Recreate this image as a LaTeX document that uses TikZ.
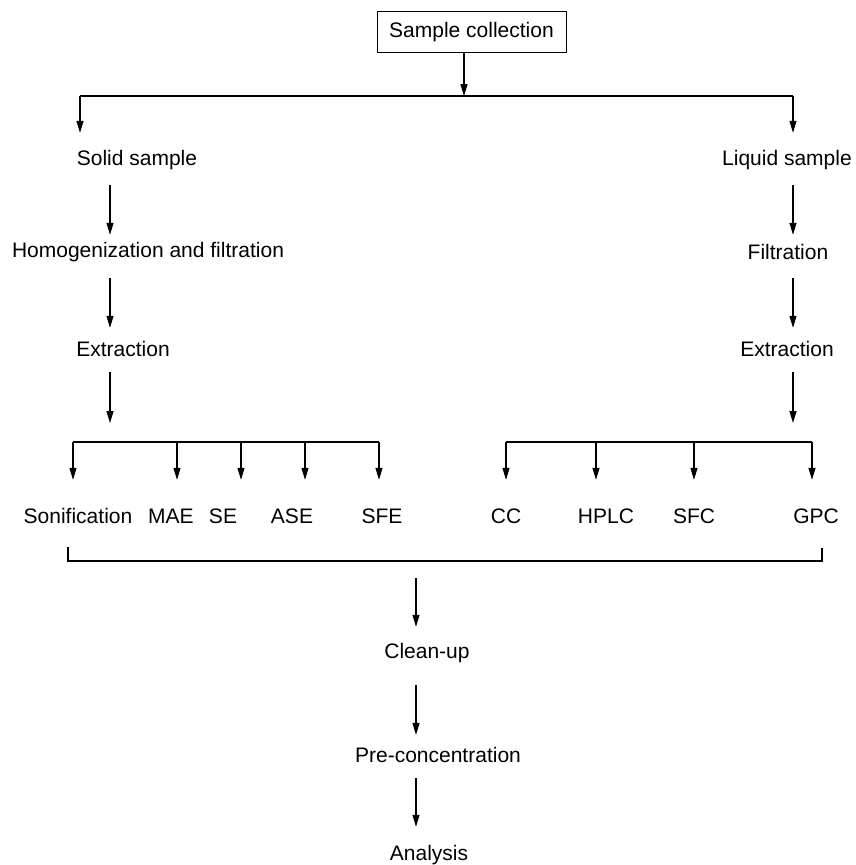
\documentclass[tikz,border=0pt]{standalone}
\usepackage{fontspec}
\setmainfont{Liberation Sans}
\usetikzlibrary{arrows.meta}
\begin{document}
\begin{tikzpicture}[x=1pt,y=-1pt,
  lbl/.style={inner sep=0pt,text height=15pt,text depth=4pt,font=\fontsize{21}{25}\selectfont},
  boxed/.style={lbl,draw,line width=1pt,minimum width=189pt,minimum height=41pt},
  ln/.style={line width=1.2pt},
  arr/.style={ln,-{Triangle[length=12pt,width=7pt]}}]
\useasboundingbox (0,0) rectangle (855,865);
% nodes
\node[boxed] (sc) at (471.5,31.5) {Sample collection};
\node[lbl] (solid) at (137,160) {Solid sample};
\node[lbl] (homog) at (148,252) {Homogenization and filtration};
\node[lbl] (extrL) at (123,351) {Extraction};
\node[lbl] (liquid) at (787,160) {Liquid sample};
\node[lbl] (filt) at (788,254) {Filtration};
\node[lbl] (extrR) at (787,351) {Extraction};
\node[lbl] (son) at (78,518) {Sonification};
\node[lbl] (mae) at (171,518) {MAE};
\node[lbl] (se) at (223,518) {SE};
\node[lbl] (ase) at (292,518) {ASE};
\node[lbl] (sfe) at (382,518) {SFE};
\node[lbl] (cc) at (506,518) {CC};
\node[lbl] (hplc) at (606,518) {HPLC};
\node[lbl] (sfc) at (694,518) {SFC};
\node[lbl] (gpc) at (816,518) {GPC};
\node[lbl] (clean) at (427,653) {Clean-up};
\node[lbl] (pre) at (438,757) {Pre-concentration};
\node[lbl] (ana) at (429,855) {Analysis};
% coordinates
\coordinate (top) at (464,96);
\coordinate (tl) at (80,96);
\coordinate (tr) at (793,96);
\coordinate (ax) at (110,0);
\coordinate (bx) at (793,0);
\coordinate (lend) at (110,423);
\coordinate (rend) at (793,423);
\coordinate (lbl0) at (73,442);
\coordinate (lbr0) at (379,442);
\coordinate (rbl0) at (506,442);
\coordinate (rbr0) at (812,442);
\coordinate (d2) at (177,442);
\coordinate (d3) at (241,442);
\coordinate (d4) at (305,442);
\coordinate (e2) at (596,442);
\coordinate (e3) at (694,442);
\coordinate (bl0) at (68,547);
\coordinate (bl) at (68,561);
\coordinate (br) at (822,561);
\coordinate (br0) at (822,548);
\coordinate (bm) at (416,578);
\coordinate (cx) at (416,0);
% top split
\draw[arr] (sc.south -| top) -- (top);
\draw[ln] (tl) -- (tr);
\draw[arr,shorten >=17.5pt] (tl) -- (solid.north -| tl);
\draw[arr,shorten >=17.5pt] (tr) -- (liquid.north -| tr);
% left column
\draw[arr,shorten <=15.5pt,shorten >=7.5pt] (solid.south -| ax) -- (homog.north -| ax);
\draw[arr,shorten <=16.5pt,shorten >=13.5pt] (homog.south -| ax) -- (extrL.north -| ax);
\draw[arr,shorten <=11.5pt] (extrL.south -| ax) -- (lend);
% right column
\draw[arr,shorten <=15.5pt,shorten >=9.5pt] (liquid.south -| bx) -- (filt.north -| bx);
\draw[arr,shorten <=14.5pt,shorten >=13.5pt] (filt.south -| bx) -- (extrR.north -| bx);
\draw[arr,shorten <=11.5pt] (extrR.south -| bx) -- (rend);
% left bracket
\draw[ln] (lbl0) -- (lbr0);
\draw[arr,shorten >=28.5pt] (lbl0) -- (son.north -| lbl0);
\draw[arr,shorten >=28.5pt] (d2) -- (mae.north -| d2);
\draw[arr,shorten >=28.5pt] (d3) -- (se.north -| d3);
\draw[arr,shorten >=28.5pt] (d4) -- (ase.north -| d4);
\draw[arr,shorten >=28.5pt] (lbr0) -- (sfe.north -| lbr0);
% right bracket
\draw[ln] (rbl0) -- (rbr0);
\draw[arr,shorten >=28.5pt] (rbl0) -- (cc.north -| rbl0);
\draw[arr,shorten >=28.5pt] (e2) -- (hplc.north -| e2);
\draw[arr,shorten >=28.5pt] (e3) -- (sfc.north -| e3);
\draw[arr,shorten >=28.5pt] (rbr0) -- (gpc.north -| rbr0);
% bottom bracket
\draw[ln] (bl0) -- (bl) -- (br) -- (br0);
\draw[arr,shorten >=16.5pt] (bm) -- (clean.north -| bm);
\draw[arr,shorten <=22.5pt,shorten >=12.5pt] (clean.south -| cx) -- (pre.north -| cx);
\draw[arr,shorten <=11.5pt,shorten >=18.5pt] (pre.south -| cx) -- (ana.north -| cx);
\end{tikzpicture}
\end{document}
